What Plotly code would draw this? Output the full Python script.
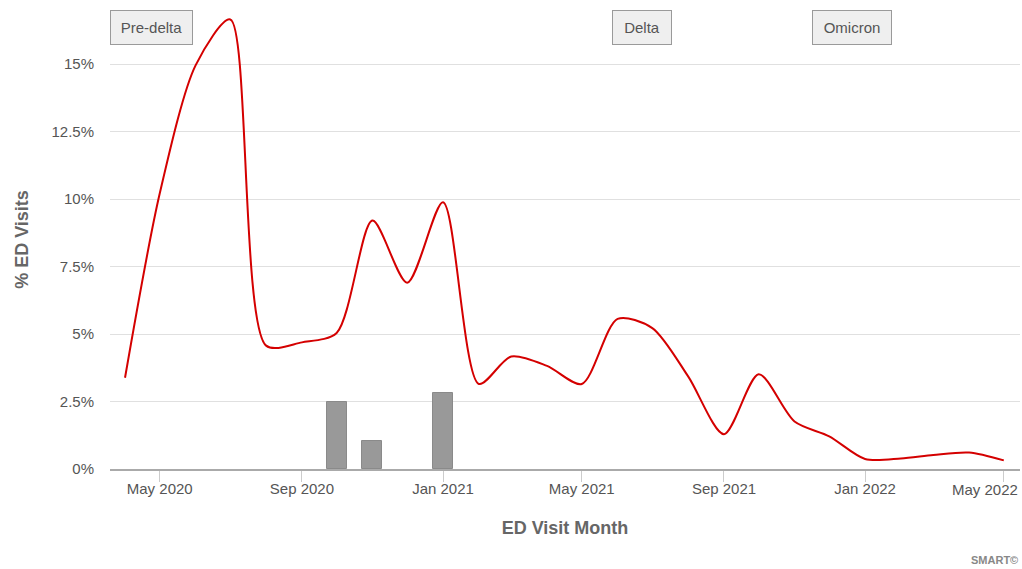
import plotly.graph_objects as go

months = ["2020-04-01", "2020-05-01", "2020-06-01", "2020-07-01", "2020-08-01", "2020-09-01",
          "2020-10-01", "2020-11-01", "2020-12-01", "2021-01-01", "2021-02-01", "2021-03-01",
          "2021-04-01", "2021-05-01", "2021-06-01", "2021-07-01", "2021-08-01", "2021-09-01",
          "2021-10-01", "2021-11-01", "2021-12-01", "2022-01-01", "2022-02-01", "2022-03-01",
          "2022-04-01", "2022-05-01"]
pct_ed_visits = [3.38, 10.2, 14.95, 16.65, 4.57, 4.69, 5.04, 9.2, 6.9, 9.88, 3.15, 4.17,
                 3.82, 3.15, 5.56, 5.22, 3.43, 1.29, 3.51, 1.76, 1.21, 0.37, 0.39, 0.52,
                 0.61, 0.32]

bar_months = ["2020-10-01", "2020-11-01", "2021-01-01"]
bar_values = [2.49, 1.04, 2.81]

variant_labels = ["Pre-delta", "Delta", "Omicron"]
variant_dates = [None, "2021-06-22", "2021-12-21"]
variant_box_widths = [69, 46, 66]

x_tick_vals = ["2020-05-01", "2020-09-01", "2021-01-01", "2021-05-01",
               "2021-09-01", "2022-01-01", "2022-05-01"]
x_tick_text = ["May 2020", "Sep 2020", "Jan 2021", "May 2021",
               "Sep 2021", "Jan 2022", "May 2022"]

y_ticks = [0, 2.5, 5, 7.5, 10, 12.5, 15]
y_tick_text = ["0%", "2.5%", "5%", "7.5%", "10%", "12.5%", "15%"]

FONT = "Liberation Sans, Arial, sans-serif"

fig = go.Figure()
fig.add_trace(go.Bar(
    x=bar_months, y=bar_values, width=17.3 * 86400000,
    marker=dict(color="#999999", line=dict(color="#8a8a8a", width=1)),
    showlegend=False, hoverinfo="skip"))
fig.add_trace(go.Scatter(
    x=months, y=pct_ed_visits, mode="lines",
    line=dict(color="#d40000", width=2, shape="spline", smoothing=0.8),
    showlegend=False))

for label, d, w in zip(variant_labels, variant_dates, variant_box_widths):
    common = dict(yref="paper", y=1, yanchor="top", text=label, showarrow=False,
                  font=dict(family=FONT, size=15, color="#555"), width=w, height=21,
                  bgcolor="#efefef", bordercolor="#9a9a9a", borderwidth=1, borderpad=6)
    if d is None:
        fig.add_annotation(xref="paper", x=0, xanchor="left", **common)
    else:
        fig.add_annotation(xref="x", x=d, xanchor="center", **common)

# last x tick label is kept inside the chart edge (as in the reference)
tick_labels_shown = x_tick_text[:-1] + [""]
fig.add_annotation(xref="paper", x=1.0, xanchor="right", yref="paper", y=-0.0436, yanchor="middle",
                   text=x_tick_text[-1], showarrow=False,
                   font=dict(family=FONT, size=15, color="#555"))

fig.add_annotation(xref="paper", x=1.0, xanchor="right", yref="paper", y=-0.198, yanchor="middle",
                   text="<b>SMART©</b>", showarrow=False,
                   font=dict(family=FONT, size=11, color="#888"))

fig.update_layout(
    width=1022, height=569,
    margin=dict(l=110, r=2, t=10, b=100, autoexpand=False),
    paper_bgcolor="white", plot_bgcolor="white",
    font=dict(family=FONT),
    bargap=0,
    xaxis=dict(
        type="date", range=["2020-03-19", "2022-05-15"],
        tickvals=x_tick_vals, ticktext=tick_labels_shown,
        tickfont=dict(size=15, color="#555"),
        ticks="outside", ticklen=11, tickcolor="#ccc", ticklabelstandoff=-6,
        showgrid=False, showline=True, linecolor="#aaa", linewidth=2,
        automargin=False,
        title=dict(text="<b>ED Visit Month</b>", font=dict(size=18, color="#666"), standoff=25),
    ),
    yaxis=dict(
        range=[0, 17], tickvals=y_ticks, ticktext=y_tick_text,
        tickfont=dict(size=15, color="#555"),
        showgrid=True, gridcolor="#e0e0e0", gridwidth=1, zeroline=False,
        ticks="outside", ticklen=12, tickcolor="rgba(0,0,0,0)",
        automargin=False,
        title=dict(text="<b>% ED Visits</b>", font=dict(size=18, color="#666"), standoff=18),
    ),
)

fig.write_html("out.html", config={"displayModeBar": False},
               post_script="document.body.style.margin='0px';")
